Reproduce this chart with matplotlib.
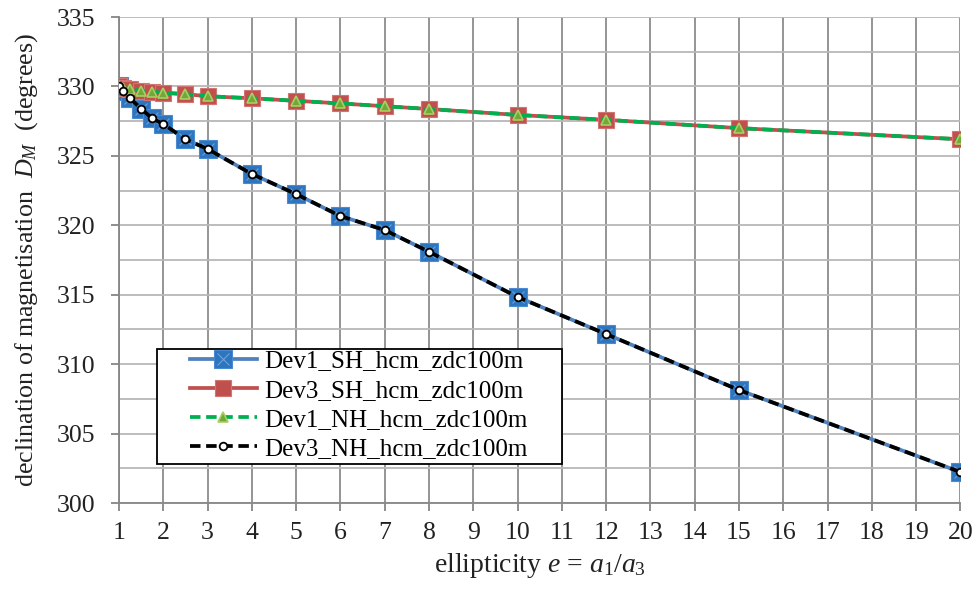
import matplotlib
matplotlib.use('Agg')
import matplotlib.pyplot as plt
from matplotlib.legend_handler import HandlerTuple
from matplotlib.patches import Rectangle
from matplotlib.ticker import MultipleLocator

plt.rcParams['font.family'] = ['Liberation Serif', 'DejaVu Serif']
plt.rcParams['mathtext.fontset'] = 'custom'
plt.rcParams['mathtext.rm'] = 'Liberation Serif'
plt.rcParams['mathtext.it'] = 'Liberation Serif:italic'

# ellipticity values
ellipticity = [1, 1.1, 1.25, 1.5, 1.75, 2, 2.5, 3, 4, 5, 6, 7, 8, 10, 12, 15, 20]

# declination of magnetisation (degrees)
dev1_sh = [330.0, 329.67, 329.15, 328.4, 327.7, 327.3, 326.2, 325.5, 323.7, 322.25,
           320.67, 319.66, 318.1, 314.84, 312.17, 308.14, 302.23]
dev3_sh = [330.0, 329.9, 329.8, 329.7, 329.62, 329.55, 329.45, 329.3, 329.15, 328.97,
           328.78, 328.58, 328.38, 327.95, 327.6, 327.0, 326.2]
dev1_nh = list(dev3_sh)
dev3_nh = list(dev1_sh)

labels = ['Dev1_SH_hcm_zdc100m', 'Dev3_SH_hcm_zdc100m',
          'Dev1_NH_hcm_zdc100m', 'Dev3_NH_hcm_zdc100m']

fig = plt.figure(figsize=(9.75, 5.89), dpi=100)
ax = fig.add_axes([0.122, 0.146, 0.863, 0.825])

dash = (0, (2.8, 1.5))

# Dev1_SH: blue line, square marker with a light cross
l1, = ax.plot(ellipticity, dev1_sh, color='#4f81bd', lw=2.7, marker='s', ms=12.5,
              mfc='#2e75c0', mec='#4a8ad0', mew=0.8, zorder=3)
l1x, = ax.plot(ellipticity, dev1_sh, ls='none', marker='x', ms=8.5,
               mec='#6fa0dc', mew=0.8, zorder=3.1)
# Dev3_SH: red line with squares
l2, = ax.plot(ellipticity, dev3_sh, color='#c0504d', lw=2.7, marker='s', ms=11,
              mfc='#c0504d', mec='#d07572', mew=0.8, zorder=4)
# Dev1_NH: green dashed with triangles
l3, = ax.plot(ellipticity, dev1_nh, color='#00b050', lw=2.7, ls=dash,
              marker='^', ms=7.5, mfc='#72a83a', mec='#a8cf5f', mew=1.2, zorder=5)
# Dev3_NH: black dashed with open circles
l4, = ax.plot(ellipticity, dev3_nh, color='black', lw=2.7, ls=dash,
              marker='o', ms=5.5, mfc='white', mec='black', mew=1.3, zorder=6)

ax.set_xlim(1, 20)
ax.set_ylim(300, 335)
ax.xaxis.set_major_locator(MultipleLocator(1))
ax.yaxis.set_major_locator(MultipleLocator(5))
ax.yaxis.set_minor_locator(MultipleLocator(2.5))

ax.grid(True, axis='x', which='major', color='#8c8c8c', lw=1.3)
ax.grid(True, axis='y', which='both', color='#b8b8b8', lw=1.3)
ax.set_axisbelow(True)

for side in ['top', 'right']:
    ax.spines[side].set_visible(False)
for side in ['left', 'bottom']:
    ax.spines[side].set_color('#868686')
    ax.spines[side].set_linewidth(1.3)

ax.tick_params(axis='both', which='major', direction='out', length=6, width=1.3,
               color='#868686', labelsize=18.5, labelcolor='#222222')
ax.tick_params(axis='x', which='major', pad=8)
ax.tick_params(axis='y', which='major', pad=11)
ax.tick_params(axis='y', which='minor', length=0)

ax.set_xlabel('ellipticity $e$ = $a_1$/$a_3$', fontsize=20, color='#222222', labelpad=5)
ax.set_ylabel('declination of magnetisation  $D_M$  (degrees)', fontsize=18.7,
              color='#222222', labelpad=12)

# legend frame (wider horizontal padding than matplotlib allows)
frame = Rectangle((0.045, 0.080), 0.482, 0.237, transform=ax.transAxes,
                  facecolor='white', edgecolor='black', lw=1.3, zorder=9)
ax.add_patch(frame)

leg = ax.legend([(l1, l1x), l2, l3, l4], labels,
                handler_map={tuple: HandlerTuple(ndivide=1)},
                loc='lower left', bbox_to_anchor=(0.084, 0.088),
                fontsize=18, frameon=False, borderpad=0, labelspacing=0.27,
                handlelength=2.7, handletextpad=0.3, borderaxespad=0)
leg.set_zorder(10)

fig.savefig('out.png', dpi=100)
